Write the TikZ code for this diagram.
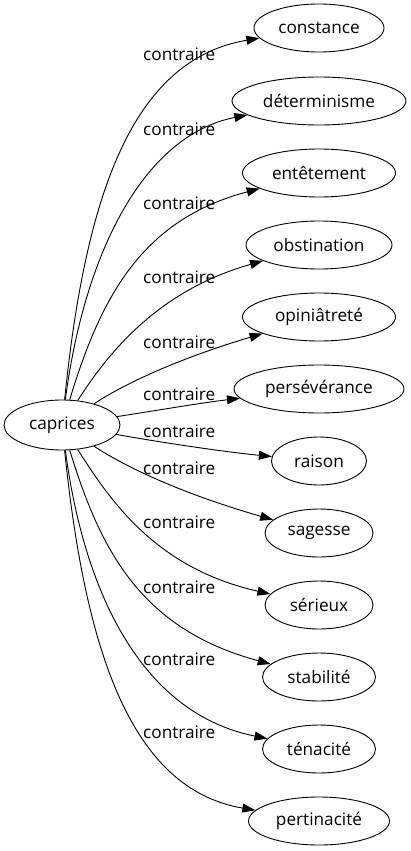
\documentclass[tikz,border=0pt]{standalone}
\usepackage{fontspec}
\setmainfont{Open Sans}
\usetikzlibrary{shapes.geometric,arrows.meta}
\begin{document}
\begin{tikzpicture}[x=1pt,y=-1pt,
  word/.style={draw=black,line width=0.9pt,ellipse,inner sep=0pt,minimum height=48pt,font=\fontsize{17.2}{20}\selectfont},
  edge/.style={draw=black,line width=0.9pt,-{Triangle[length=13pt,width=9pt]}},
  lab/.style={anchor=base west,inner sep=0pt,font=\fontsize{17.2}{20}\selectfont}]
\useasboundingbox (0,0) rectangle (410,851);
\node[word,minimum width=116pt,minimum height=50pt] (c) at (62,425) {caprices};
\node[word,minimum width=130pt] (n0) at (319,28) {constance};
\node[word,minimum width=174pt] (n1) at (319,101) {déterminisme};
\node[word,minimum width=153pt] (n2) at (319,173) {entêtement};
\node[word,minimum width=146pt] (n3) at (319,245) {obstination};
\node[word,minimum width=153pt] (n4) at (319,317) {opiniâtreté};
\node[word,minimum width=170pt] (n5) at (319,389) {persévérance};
\node[word,minimum width=95pt] (n6) at (319,461) {raison};
\node[word,minimum width=108pt] (n7) at (319,533) {sagesse};
\node[word,minimum width=108pt] (n8) at (319,605) {sérieux};
\node[word,minimum width=113pt] (n9) at (319,677) {stabilité};
\node[word,minimum width=113pt] (n10) at (319,749) {ténacité};
\node[word,minimum width=141pt] (n11) at (319,821) {pertinacité};
\draw[edge] (c) .. controls (85,200) and (130,60) .. (n0);
\draw[edge] (c) .. controls (85,250) and (145,135) .. (n1);
\draw[edge] (c) .. controls (100,300) and (140,220) .. (n2);
\draw[edge] (c) .. controls (110,350) and (160,290) .. (n3);
\draw[edge] (c) .. controls (130,380) and (190,355) .. (n4);
\draw[edge] (c) .. controls (160,410) and (200,403) .. (n5);
\draw[edge] (c) .. controls (165,443) and (225,452) .. (n6);
\draw[edge] (c) .. controls (130,470) and (190,496) .. (n7);
\draw[edge] (c) .. controls (110,500) and (155,568) .. (n8);
\draw[edge] (c) .. controls (100,549) and (140,629) .. (n9);
\draw[edge] (c) .. controls (85,599) and (145,714) .. (n10);
\draw[edge] (c) .. controls (85,649) and (130,789) .. (n11);
\node[lab] (l0) at (143,60) {contraire};
\node[lab] (l1) at (143,135) {contraire};
\node[lab] (l2) at (143,209) {contraire};
\node[lab] (l3) at (143,283) {contraire};
\node[lab] (l4) at (143,348) {contraire};
\node[lab] (l5) at (143,400) {contraire};
\node[lab] (l6) at (143,437) {contraire};
\node[lab] (l7) at (143,474) {contraire};
\node[lab] (l8) at (143,528) {contraire};
\node[lab] (l9) at (143,593) {contraire};
\node[lab] (l10) at (143,665) {contraire};
\node[lab] (l11) at (143,738) {contraire};
\end{tikzpicture}
\end{document}
